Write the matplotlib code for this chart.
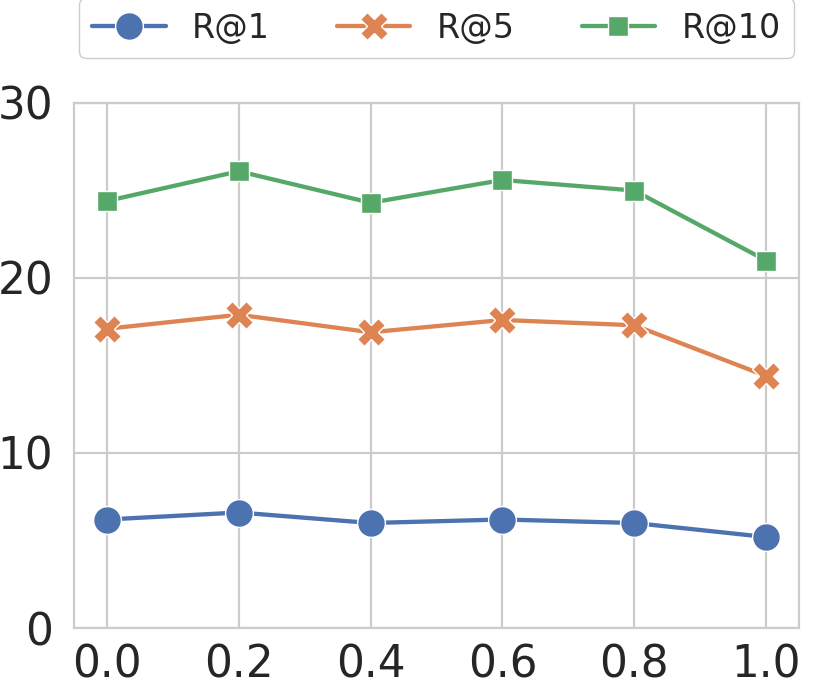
import matplotlib
matplotlib.use("Agg")
import matplotlib.pyplot as plt
import seaborn as sns

# --- data ---
alphas = [0.0, 0.2, 0.4, 0.6, 0.8, 1.0]
r_at_1 = [6.2, 6.6, 6.0, 6.2, 6.0, 5.2]
r_at_5 = [17.1, 17.9, 16.9, 17.6, 17.3, 14.4]
r_at_10 = [24.4, 26.1, 24.3, 25.6, 25.0, 21.0]
series_names = ["R@1", "R@5", "R@10"]
y_ticks = [0, 10, 20, 30]
x_ticks = [0.0, 0.2, 0.4, 0.6, 0.8, 1.0]

sns.set_theme(style="whitegrid")
plt.rcParams['font.family'] = ['DejaVu Sans']

colors = sns.color_palette("deep")[:3]
markers = ["o", "X", (4, 0, 45)]

fig = plt.figure(figsize=(8.3, 6.87), dpi=100)
ax = fig.add_axes([74 / 830, 1 - 628 / 687, 725 / 830, 525 / 687])

for vals, name, c, m in zip([r_at_1, r_at_5, r_at_10], series_names, colors, markers):
    ax.plot(alphas, vals, color=c, marker=m, markersize=20, lw=3.1,
            markeredgecolor='white', markeredgewidth=1.0, label=name)

ax.set_ylim(0, 30)
ax.set_yticks(y_ticks)
ax.set_xticks(x_ticks)
ax.set_xticklabels([f"{v:.1f}" for v in x_ticks])
ax.tick_params(axis='both', labelsize=31.5, colors='#262626')
ax.tick_params(axis='x', pad=5)
ax.tick_params(axis='y', pad=9)
for s in ax.spines.values():
    s.set_color('#cccccc')
    s.set_linewidth(1.6)
ax.grid(color='#cccccc', lw=1.6)

ax.legend(loc='lower center', bbox_to_anchor=(0.5, 1.086), ncol=3, fontsize=24,
          handlelength=2.2, columnspacing=2.0, frameon=True, framealpha=1,
          edgecolor='#cccccc', borderaxespad=0)

fig.savefig("out.png", dpi=100)
